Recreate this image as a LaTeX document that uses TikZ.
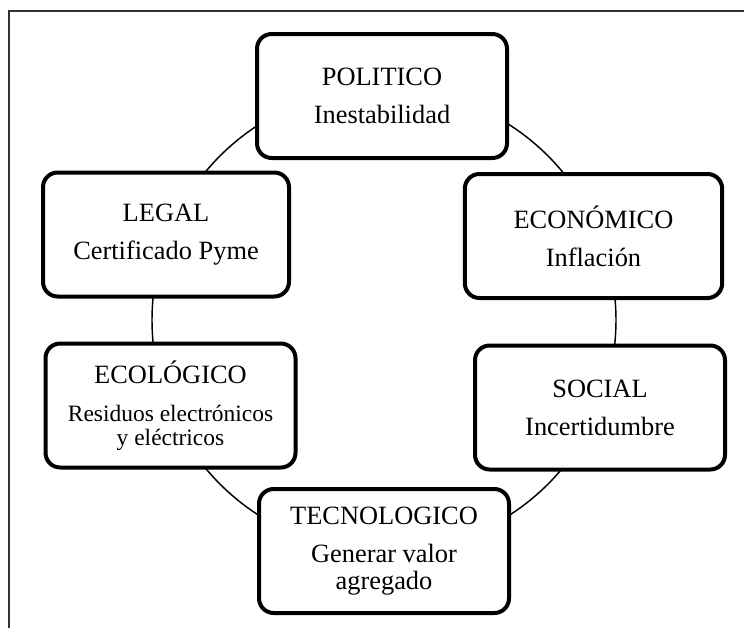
\documentclass[tikz,border=0pt]{standalone}
\usepackage{fontspec}
\setmainfont{Liberation Serif}
\newcommand{\smalltext}{\fontsize{17.6}{18}\selectfont}

\begin{document}
\begin{tikzpicture}[
  x=0.75pt, y=-0.75pt,
  factor/.style={draw, line width=3pt, rounded corners=11pt, fill=white,
    minimum width=187.5pt, minimum height=93pt, inner sep=0pt,
    align=center, font=\fontsize{19.8}{20.5}\selectfont},
  ring/.style={line width=1.1pt},
  ]
  \useasboundingbox (0,0) rectangle (744,628);
  \draw[line width=1pt, black!80] (9,628) -- (9,11) -- (744,11);

  % the cycle behind the boxes
  \coordinate (hub) at (384,320);
  \draw[ring] (hub) circle[radius=232];

  \node[factor] (Politico) at (382,96) {POLITICO\\[8pt]Inestabilidad};
  \node[factor, minimum width=193pt] (Economico) at (593.5,236) {ECONÓMICO\\[8pt]Inflación};
  \node[factor] (Social) at (600,407.5) {SOCIAL\\[8pt]Incertidumbre};
  \node[factor] (Tecnologico) at (384,551) {TECNOLOGICO\\[8pt]Generar valor\\agregado};
  \node[factor] (Ecologico) at (170.5,405.5)
    {ECOLÓGICO\\[8pt]\smalltext Residuos electrónicos\\[-2.5pt]\smalltext y eléctricos};
  \node[factor, minimum width=184.5pt] (Legal) at (166,234.5) {LEGAL\\[8pt]Certificado Pyme};

\end{tikzpicture}
\end{document}
